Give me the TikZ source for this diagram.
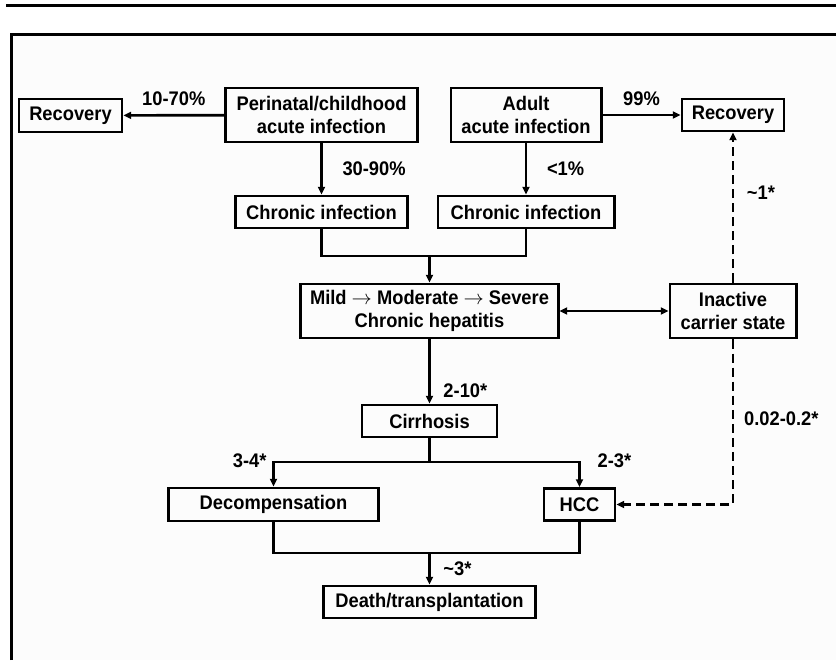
\documentclass[tikz,border=0pt]{standalone}
\usepackage{fontspec}
\setmainfont[FakeStretch=0.93]{Liberation Sans}
\usetikzlibrary{arrows.meta}
\definecolor{panel}{HTML}{FCFCFC}

\begin{document}
\begin{tikzpicture}[x=0.025cm, y=-0.025cm, line width=1.9pt,
  font=\fontsize{14}{16}\selectfont\bfseries,
  box/.style={draw, line width=2.1pt, align=center, inner sep=1pt},
  arr/.style={-{Triangle[length=5.5pt, width=5pt]}},
  biarr/.style={{Triangle[length=5.5pt, width=5pt]}-{Triangle[length=5.5pt, width=5pt]}},
  dasharr/.style={arr, dash pattern=on 6.5pt off 3.5pt},
  lbl/.style={inner sep=0pt}]
  \useasboundingbox (0,0) rectangle (836,660);

  % frame
  \fill[panel] (11.5,34.5) rectangle (836,660);
  \draw[line width=2.5pt] (6,5.5) -- (836,5.5);
  \draw[line width=2.5pt] (11.5,660) -- (11.5,34.5) -- (836,34.5);

  % acute infection
  \node[box, minimum width=2.575cm, minimum height=0.825cm] (rec1) at (70.5,115.5) {Recovery};
  \node[box, minimum width=4.8cm, minimum height=1.35cm] (peri) at (321.5,115) {Perinatal/childhood\\acute infection};
  \node[box, minimum width=3.75cm, minimum height=1.35cm] (adult) at (526,115) {Adult\\acute infection};
  \node[box, minimum width=2.55cm, minimum height=0.8cm] (rec2) at (733,115) {Recovery};

  % chronic infection
  \node[box, minimum width=4.3cm, minimum height=0.8cm] (chr1) at (321.5,212) {Chronic infection};
  \node[box, minimum width=4.4cm, minimum height=0.8cm] (chr2) at (526,212) {Chronic infection};
  \node[box, minimum width=6.425cm, minimum height=1.35cm] (mild) at (429.5,311)
    {Mild $\rightarrow$ Moderate $\rightarrow$ Severe\\Chronic hepatitis};
  \node[box, minimum width=3.15cm, minimum height=1.35cm] (inact) at (733,311) {Inactive\\carrier state};

  % late stages
  \node[box, minimum width=3.375cm, minimum height=0.8cm] (cirr) at (429.5,421) {Cirrhosis};
  \node[box, minimum width=5.225cm, minimum height=0.825cm] (decomp) at (273.5,504.5) {Decompensation};
  \node[box, minimum width=1.775cm, minimum height=0.8cm] (hcc) at (579.5,504.5) {HCC};
  \node[box, minimum width=5.275cm, minimum height=0.8cm] (death) at (429.5,602) {Death/transplantation};

  \coordinate (join1) at (429.5,256);
  \coordinate (split) at (429.5,462);
  \coordinate (join2) at (429.5,553);

  % connectors
  \draw[arr] (peri) -- (rec1) node[lbl, midway, above=6pt] {10-70\%};
  \draw[arr] (adult) -- (rec2) node[lbl, midway, above=6pt] {99\%};
  \draw[arr] (peri) -- (chr1) node[lbl, midway, right=14pt] {30-90\%};
  \draw[arr] (adult) -- (chr2) node[lbl, midway, right=14pt] {<1\%};
  \draw (chr1) |- (join1) -| (chr2);
  \draw[arr] (join1) -- (mild);
  \draw[biarr] (mild) -- (inact);
  \draw[dasharr] (inact) -- (rec2) node[lbl, pos=0.6, right=9pt] {\textasciitilde1*};
  \draw[arr] (mild) -- (cirr) node[lbl, pos=0.8, right=9pt] {2-10*};
  \draw (cirr) -- (split);
  \draw[arr] (split) -| node[lbl, pos=0.5, left=4pt, yshift=1pt] {3-4*} (decomp);
  \draw[arr] (split) -| node[lbl, pos=0.5, right=12pt, yshift=1pt] {2-3*} (hcc);
  \draw[dasharr] (inact) |- node[lbl, pos=0.24, right=7pt] {0.02-0.2*} (hcc);
  \draw (decomp) |- (join2) -| (hcc);
  \draw[arr] (join2) -- (death) node[lbl, midway, right=9pt] {\textasciitilde3*};
\end{tikzpicture}
\end{document}
